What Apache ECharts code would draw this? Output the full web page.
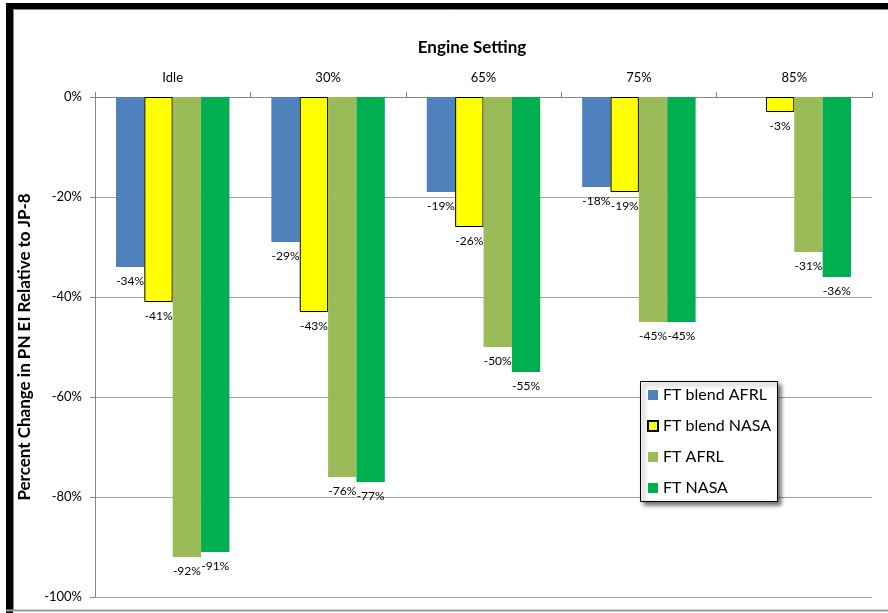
<!DOCTYPE html>
<html>
<head>
<meta charset="utf-8">
<title>Engine Setting</title>
<script src="https://cdn.jsdelivr.net/npm/echarts@6/dist/echarts.min.js"></script>
<style>
  html, body { margin: 0; padding: 0; background: #fff; }
  #chart { width: 888px; height: 613px; }
</style>
</head>
<body>
<div id="chart"></div>
<script>
// Percent change in PN emission index relative to JP-8, by engine setting
const categories = ['Idle', '30%', '65%', '75%', '85%'];
const seriesNames = ['FT blend AFRL', 'FT blend NASA', 'FT AFRL', 'FT NASA'];
const ftBlendAfrl = [-34, -29, -19, -18, null];
const ftBlendNasa = [-41, -43, -26, -19, -3];
const ftAfrl = [-92, -76, -50, -45, -31];
const ftNasa = [-91, -77, -55, -45, -36];
const yTicks = { min: -100, max: 0, interval: 20 };

const FONT = 'Lato, "Open Sans", sans-serif';
const colors = ['#4F81BD', '#FFFF00', '#9BBB59', '#00B050'];
const values = [ftBlendAfrl, ftBlendNasa, ftAfrl, ftNasa];

const chart = echarts.init(document.getElementById('chart'), null, { renderer: 'canvas' });

const series = seriesNames.map((name, i) => ({
  name,
  type: 'bar',
  data: values[i],
  barGap: '0%',
  barCategoryGap: '27%',
  itemStyle: {
    color: colors[i],
    borderColor: i === 1 ? '#000' : colors[i],
    borderWidth: i === 1 ? 1 : 0
  },
  label: {
    show: true,
    position: 'bottom',
    distance: 8,
    formatter: p => p.value + '%',
    fontFamily: FONT,
    fontSize: 12,
    color: '#000'
  },
  emphasis: { disabled: true }
}));

chart.setOption({
  animation: false,
  backgroundColor: '#fff',
  textStyle: { fontFamily: FONT },
  title: {
    text: 'Engine Setting',
    left: 467,
    top: 34,
    textAlign: 'center',
    textStyle: { fontFamily: FONT, fontSize: 17, fontWeight: 'bold', color: '#000' }
  },
  grid: { left: 95, right: 16, top: 97, bottom: 16, containLabel: false },
  legend: {
    orient: 'vertical',
    left: 647,
    top: 387,
    z: 20,
    padding: 0,
    itemWidth: 10,
    itemHeight: 10,
    itemGap: 15,
    icon: 'rect',
    data: seriesNames,
    textStyle: { fontFamily: FONT, fontSize: 16, lineHeight: 16, color: '#000' },
    selectedMode: false
  },
  xAxis: {
    type: 'category',
    position: 'top',
    data: categories,
    axisLine: { show: true, lineStyle: { color: '#868686', width: 1 } },
    axisTick: { show: true, length: 5, lineStyle: { color: '#868686' } },
    axisLabel: { margin: 13, fontFamily: FONT, fontSize: 13, color: '#000' },
    splitLine: { show: false }
  },
  yAxis: {
    type: 'value',
    min: yTicks.min,
    max: yTicks.max,
    interval: yTicks.interval,
    name: 'Percent Change in PN EI Relative to JP-8',
    nameLocation: 'middle',
    nameGap: 57,
    nameTextStyle: { fontFamily: FONT, fontSize: 17, fontWeight: 'bold', color: '#000' },
    axisLine: { show: true, lineStyle: { color: '#868686', width: 1 } },
    axisTick: { show: true, length: 5, lineStyle: { color: '#868686' } },
    axisLabel: { margin: 13, formatter: '{value}%', fontFamily: FONT, fontSize: 13, color: '#000' },
    splitLine: { show: true, lineStyle: { color: '#a0a0a0', width: 1 } }
  },
  graphic: [
    // outer frame: heavy dark edge on top/left, thin grey edge inside and along the bottom
    { type: 'rect', z: 100, shape: { x: 6, y: 3, width: 890, height: 6 }, style: { fill: '#000' } },
    { type: 'rect', z: 100, shape: { x: 6, y: 3, width: 7, height: 610 }, style: { fill: '#000' } },
    { type: 'line', z: 100, shape: { x1: 13, y1: 9.5, x2: 888, y2: 9.5 }, style: { stroke: '#8c8c8c', lineWidth: 1 } },
    { type: 'line', z: 100, shape: { x1: 13.5, y1: 9, x2: 13.5, y2: 611 }, style: { stroke: '#8c8c8c', lineWidth: 1 } },
    { type: 'line', z: 100, shape: { x1: 6, y1: 610.5, x2: 888, y2: 610.5 }, style: { stroke: '#9a9a9a', lineWidth: 2 } },
    // legend box with drop shadow
    {
      type: 'rect', z: 1,
      shape: { x: 640.5, y: 381.5, width: 137, height: 120 },
      style: {
        fill: '#fff', stroke: '#000', lineWidth: 1,
        shadowBlur: 4, shadowOffsetX: 3, shadowOffsetY: 3, shadowColor: 'rgba(0,0,0,0.55)'
      }
    }
  ],
  series
});
</script>
</body>
</html>
